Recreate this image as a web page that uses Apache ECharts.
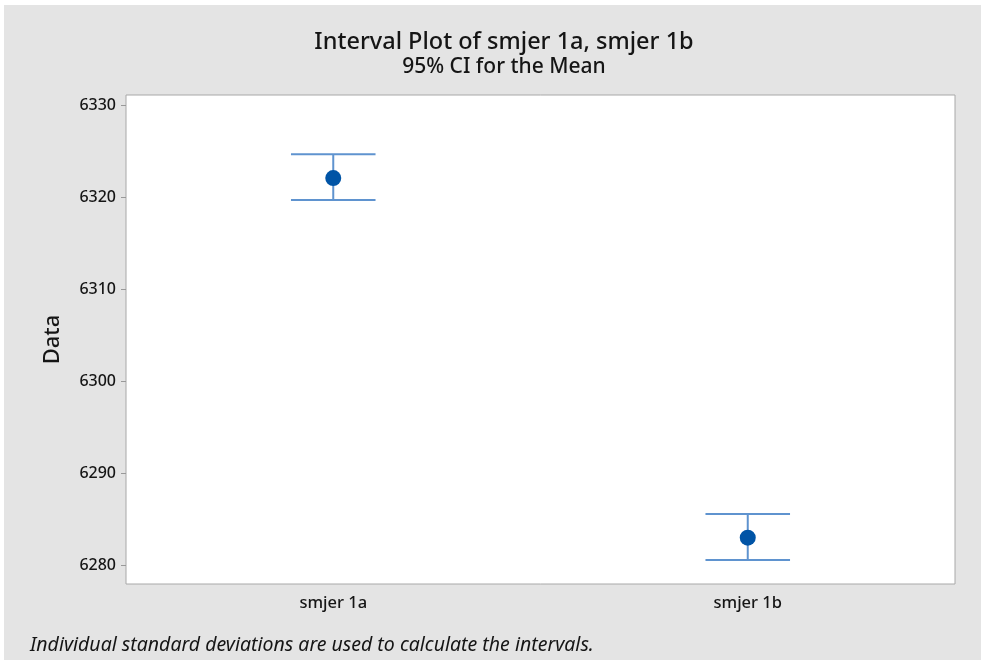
<!DOCTYPE html>
<html>
<head>
<meta charset="utf-8">
<script src="https://cdn.jsdelivr.net/npm/echarts@6/dist/echarts.min.js"></script>
<style>
  html, body { margin: 0; padding: 0; background: #fff; }
  #chart { width: 986px; height: 662px; }
</style>
</head>
<body>
<div id="chart"></div>
<script>
// data
var categories = ['smjer 1a', 'smjer 1b'];
var means = [6322.07, 6282.97];
var lowerCI = [6319.67, 6280.54];
var upperCI = [6324.67, 6285.54];
var yTicks = [6280, 6290, 6300, 6310, 6320, 6330];

var font = 'Noto Sans';
var ink = '#151515';
var chart = echarts.init(document.getElementById('chart'));

var barData = categories.map(function (c, i) {
  return [i, lowerCI[i], upperCI[i]];
});
var meanData = categories.map(function (c, i) {
  return [i, means[i]];
});

chart.setOption({
  backgroundColor: '#fff',
  animation: false,
  graphic: [
    {
      type: 'rect',
      z: -10,
      shape: { x: 4, y: 5, width: 977, height: 655 },
      style: { fill: '#e4e4e4' }
    },
    {
      type: 'text',
      left: 30,
      top: 635,
      style: {
        text: 'Individual standard deviations are used to calculate the intervals.',
        font: 'italic 19.5px "Noto Sans"',
        fill: ink
      }
    }
  ],
  title: {
    text: 'Interval Plot of smjer 1a, smjer 1b',
    subtext: '95% CI for the Mean',
    left: 499,
    textAlign: 'center',
    top: 25,
    itemGap: 3,
    textStyle: { fontFamily: font, fontSize: 23.5, fontWeight: 500, color: ink },
    subtextStyle: { fontFamily: font, fontSize: 21, fontWeight: 500, color: ink }
  },
  grid: {
    left: 126,
    right: 31,
    top: 95,
    bottom: 78,
    show: true,
    backgroundColor: '#fff',
    borderColor: '#a8a8a8',
    borderWidth: 1
  },
  xAxis: {
    type: 'category',
    data: categories,
    boundaryGap: true,
    axisLine: { show: false },
    axisTick: { alignWithLabel: true, length: 5, lineStyle: { color: '#999' } },
    axisLabel: { fontFamily: font, fontSize: 16.5, fontWeight: 500, color: ink, margin: 11 },
    splitLine: { show: false }
  },
  yAxis: {
    type: 'value',
    min: 6277.93,
    max: 6331.1,
    name: 'Data',
    nameLocation: 'middle',
    nameGap: 62,
    nameTextStyle: { fontFamily: font, fontSize: 22, fontWeight: 500, color: ink },
    axisLine: { show: false },
    axisTick: { show: true, length: 5, customValues: yTicks, lineStyle: { color: '#999' } },
    axisLabel: {
      fontFamily: font, fontSize: 16, fontWeight: 500, color: ink, margin: 10,
      customValues: yTicks,
      formatter: function (v) { return String(v); }
    },
    splitLine: { show: false }
  },
  series: [
    {
      type: 'custom',
      data: barData,
      encode: { x: 0, y: [1, 2] },
      renderItem: function (params, api) {
        var idx = api.value(0);
        var lo = api.coord([idx, api.value(1)]);
        var hi = api.coord([idx, api.value(2)]);
        var half = api.size([1, 0])[0] * 0.102;
        var style = { stroke: '#5f93cf', lineWidth: 2 };
        return {
          type: 'group',
          children: [
            { type: 'line', shape: { x1: lo[0], y1: lo[1], x2: hi[0], y2: hi[1] }, style: style },
            { type: 'line', shape: { x1: hi[0] - half, y1: hi[1], x2: hi[0] + half, y2: hi[1] }, style: style },
            { type: 'line', shape: { x1: lo[0] - half, y1: lo[1], x2: lo[0] + half, y2: lo[1] }, style: style }
          ]
        };
      }
    },
    {
      type: 'scatter',
      data: meanData,
      symbol: 'circle',
      symbolSize: 16,
      itemStyle: { color: '#0054a6', opacity: 1 },
      z: 5
    }
  ]
});
</script>
</body>
</html>
